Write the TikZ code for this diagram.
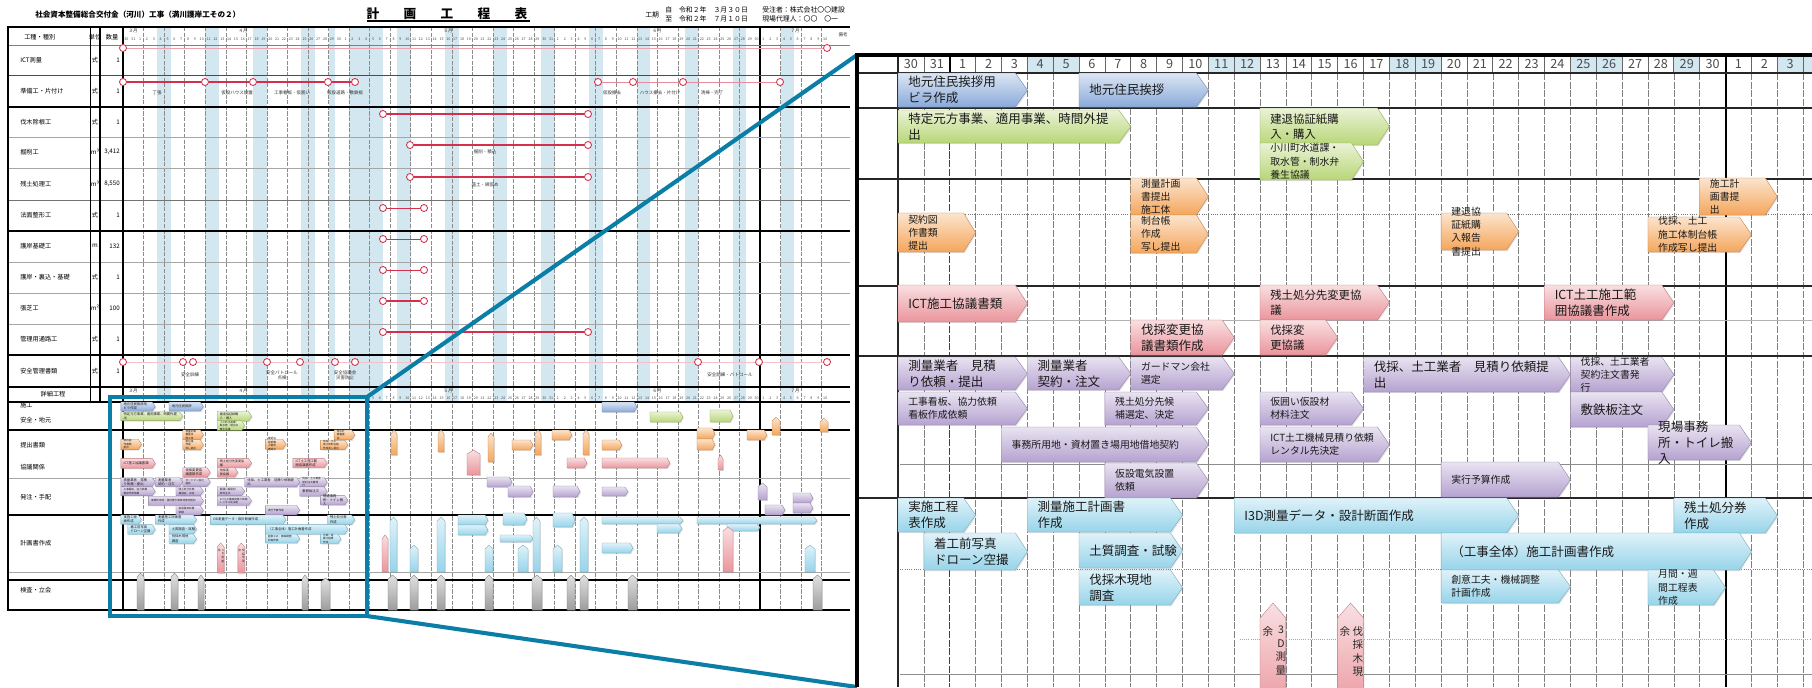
\documentclass[tikz,border=0pt]{standalone}
\usepackage{fontspec}
\setmainfont{Noto Sans CJK JP}
\usetikzlibrary{shadows}

\definecolor{zoomblue}{HTML}{0A7EA6}
\definecolor{barred}{HTML}{D5304B}
\definecolor{wkend}{HTML}{D2E7EF}
\definecolor{cBlue}{HTML}{8AAAD9}
\definecolor{cGreen}{HTML}{B8D677}
\definecolor{cOrange}{HTML}{F4A65C}
\definecolor{cPink}{HTML}{EA959C}
\definecolor{cPurple}{HTML}{B5A2D0}
\definecolor{cCyan}{HTML}{97D4EA}
\definecolor{cGray}{HTML}{9C9C9C}

\def\xz{898}
\def\cw{25.86}
\def\xs{123}
\def\dw{6.85}
\def\pfx{z}
\newcommand\fbig{\fontsize{8.9}{11.4}\selectfont}
\newcommand\fmid{\fontsize{8.1}{10.4}\selectfont}
\newcommand\fsml{\fontsize{7}{9.4}\selectfont}

\newcommand\gblock[8]{%
  \path[chev=#6] ({\xz+#2*\cw},#3) -- ({\xz+#4*\cw-12},#3) -- ({\xz+#4*\cw},{(#3+#5)/2})
    -- ({\xz+#4*\cw-12},#5) -- ({\xz+#2*\cw},#5) -- cycle;
  \node[blktxt, font=#7] (\pfx#1) at ({\xz+#2*\cw+10},{(#3+#5)/2}) {#8};}
\newcommand\gup[5]{%
  \path[chev=#5] ({\xz+#1*\cw},#4) -- ({\xz+#1*\cw},{#2+15}) -- ({\xz+(#1+#3)/2*\cw},#2)
    -- ({\xz+#3*\cw},{#2+15}) -- ({\xz+#3*\cw},#4) -- cycle;}
\newcommand\minichev[5]{%
  \path[chev=#5] (#1,#2) -- ({#3-3},#2) -- (#3,{(#2+#4)/2}) -- ({#3-3},#4) -- (#1,#4) -- cycle;}
\newcommand\miniup[5]{%
  \path[chev=#5] (#1,#4) -- (#1,{#3+4}) -- ({(#1+#2)/2},#3) -- (#2,{#3+4}) -- (#2,#4) -- cycle;}
\newcommand\sheetdays[2]{%
  \foreach \d [count=\k from 0] in {30,31}
    \node[daynum] (#2m\k) at ({\xs+(\k+0.5)*\dw},#1) {\d};
  \foreach \d in {1,...,30}
    \node[daynum] (#2a\d) at ({\xs+(\d+1.5)*\dw},#1) {\d};
  \foreach \d in {1,...,31}
    \node[daynum] (#2b\d) at ({\xs+(\d+31.5)*\dw},#1) {\d};
  \foreach \d in {1,...,30}
    \node[daynum] (#2c\d) at ({\xs+(\d+62.5)*\dw},#1) {\d};
  \foreach \d in {1,...,10}
    \node[daynum] (#2d\d) at ({\xs+(\d+92.5)*\dw},#1) {\d};}

\newcommand\ganttblocks{%
  \gblock{a1}{0}{73}{5}{107}{cBlue}{\fbig}{地元住民挨拶用\\ビラ作成}
  \gblock{a2}{7}{73}{12}{107}{cBlue}{\fbig}{地元住民挨拶}
  \gblock{b1}{0}{110}{9}{143}{cGreen}{\fbig}{特定元方事業、適用事業、時間外提\\出}
  \gblock{b2}{14}{108}{19}{145}{cGreen}{\fmid}{建退協証紙購\\入・購入}
  \gblock{b3}{14}{143}{18}{180}{cGreen}{\fsml}{小川町水道課・\\取水管・制水弁\\養生協議}
  \gblock{c1}{0}{213}{3}{252}{cOrange}{\fsml}{契約図\\作書類\\提出}
  \gblock{c2}{9}{178}{12}{215}{cOrange}{\fsml}{測量計画\\書提出\\施工体}
  \gblock{c3}{9}{215}{12}{253}{cOrange}{\fsml}{制台帳\\作成\\写し提出}
  \gblock{c4}{21}{213}{24}{250}{cOrange}{\fsml}{建退協\\証紙購\\入報告\\書提出}
  \gblock{c5}{29}{217}{33}{252}{cOrange}{\fsml}{伐採、土工\\施工体制台帳\\作成写し提出}
  \gblock{c6}{31}{178}{34}{215}{cOrange}{\fsml}{施工計\\画書提\\出}
  \gblock{d1}{0}{285}{5}{322}{cPink}{\fbig}{ICT施工協議書類}
  \gblock{d2}{9}{320}{13}{355}{cPink}{\fbig}{伐採変更協\\議書類作成}
  \gblock{d3}{14}{285}{19}{320}{cPink}{\fmid}{残土処分先変更協\\議}
  \gblock{d4}{14}{320}{17}{355}{cPink}{\fmid}{伐採変\\更協議}
  \gblock{d5}{25}{285}{30}{320}{cPink}{\fbig}{ICT土工施工範\\囲協議書作成}
  \gblock{e1}{0}{357}{5}{390}{cPurple}{\fbig}{測量業者　見積\\り依頼・提出}
  \gblock{e2}{5}{357}{9}{390}{cPurple}{\fbig}{測量業者\\契約・注文}
  \gblock{e3}{9}{357}{13}{390}{cPurple}{\fsml}{ガードマン会社\\選定}
  \gblock{e4}{0}{392}{5}{425}{cPurple}{\fsml}{工事看板、協力依頼\\看板作成依頼}
  \gblock{e5}{8}{392}{12}{425}{cPurple}{\fsml}{残土処分先候\\補選定、決定}
  \gblock{e6}{4}{427}{12}{462}{cPurple}{\fsml}{事務所用地・資材置き場用地借地契約}
  \gblock{e7}{8}{463}{12}{498}{cPurple}{\fsml}{仮設電気設置\\依頼}
  \gblock{e8}{14}{392}{18}{425}{cPurple}{\fsml}{仮囲い仮設材\\材料注文}
  \gblock{e9}{14}{427}{19}{462}{cPurple}{\fsml}{ICT土工機械見積り依頼\\レンタル先決定}
  \gblock{e10}{18}{357}{26}{392}{cPurple}{\fbig}{伐採、土工業者　見積り依頼提\\出}
  \gblock{e11}{26}{357}{30}{392}{cPurple}{\fsml}{伐採、土工業者\\契約注文書発\\行}
  \gblock{e12}{26}{392}{30}{427}{cPurple}{\fbig}{敷鉄板注文}
  \gblock{e13}{29}{425}{33}{460}{cPurple}{\fbig}{現場事務\\所・トイレ搬\\入}
  \gblock{e14}{21}{462}{26}{497}{cPurple}{\fsml}{実行予算作成}
  \gblock{f1}{0}{498}{3}{532}{cCyan}{\fbig}{実施工程\\表作成}
  \gblock{f2}{1}{533}{5}{570}{cCyan}{\fbig}{着工前写真\\ドローン空撮}
  \gblock{f3}{5}{498}{11}{532}{cCyan}{\fbig}{測量施工計画書\\作成}
  \gblock{f4}{7}{533}{11}{568}{cCyan}{\fbig}{土質調査・試験}
  \gblock{f5}{7}{570}{11}{605}{cCyan}{\fbig}{伐採木現地\\調査}
  \gblock{f6}{13}{498}{24}{533}{cCyan}{\fbig}{I3D測量データ・設計断面作成}
  \gblock{f7}{30}{498}{34}{533}{cCyan}{\fbig}{残土処分券\\作成}
  \gblock{f8}{21}{533}{33}{570}{cCyan}{\fbig}{（工事全体）施工計画書作成}
  \gblock{f9}{21}{570}{26}{603}{cCyan}{\fsml}{創意工夫・機械調整\\計画作成}
  \gblock{f10}{29}{570}{32}{605}{cCyan}{\fsml}{月間・週\\間工程表\\作成}
  \gup{14}{603}{15}{716}{cPink}
  \node[vtxt] (\pfx g1a) at (1268,626) {余};
  \node[vtxt] (\pfx g1b) at (1281,626) {3\\D\\測\\量};
  \gup{17}{603}{18}{716}{cPink}
  \node[vtxt] (\pfx g2a) at (1345,626) {余};
  \node[vtxt] (\pfx g2b) at (1358,626) {伐\\採\\木\\現};}

\begin{document}
\begin{tikzpicture}[x=0.025cm, y=-0.025cm,
  chev/.style={top color=#1!30!white, bottom color=#1, draw=#1!80!black, line width=0.25pt,
    drop shadow={shadow xshift=0.7pt, shadow yshift=-0.7pt, opacity=0.25}},
  blktxt/.style={anchor=west, align=left, inner sep=0pt, text=black!90, transform shape},
  vtxt/.style={anchor=north, align=center, inner sep=0pt, font=\fontsize{7.5}{9.6}\selectfont,
    text=black!85, transform shape},
  daynum/.style={font=\fontsize{2.6}{3}\selectfont, text=black!70, inner sep=0pt},
  bignum/.style={font=\fontsize{9}{10}\selectfont, text=black!70, inner sep=0pt},
  lbl/.style={font=\fontsize{4.4}{5}\selectfont, anchor=west, inner sep=0pt},
  info/.style={font=\fontsize{4.9}{5.5}\selectfont, anchor=west, inner sep=0pt},
  note/.style={font=\fontsize{3.2}{3.8}\selectfont, inner sep=0pt, align=center, text=black!80},
  stop/.style={circle, draw=barred, fill=white, line width=0.6pt, minimum size=5pt, inner sep=0pt},
  plan/.style={barred, line width=#1},
  sgrid/.style={black!45, line width=0.35pt, dash pattern=on 3pt off 1pt},
  zgrid/.style={black!50, line width=0.4pt, dash pattern=on 5pt off 1.2pt},
  zrow/.style={black!85, line width=1.1pt},
  zoomline/.style={zoomblue, line width=2.9pt}
]
\useasboundingbox (0,0) rectangle (1812,687);
\fill[white] (0,0) rectangle (1812,687);

\node[info, font=\fontsize{5.4}{6}\selectfont\bfseries] (subject) at (35,15)
  {社会資本整備総合交付金（河川）工事（満川護岸工その２）};
\foreach \c [count=\i] in {計,画,工,程,表}
  \node[font=\fontsize{9}{10}\selectfont\bfseries, inner sep=0pt] (tt\i) at ({336+37*\i},14) {\c};
\draw[line width=0.8pt] (367,21) -- (530,21);
\node[info] (kouki) at (645,15) {工期};
\node[info] (kfrom) at (665,10) {自　令和２年　３月３０日};
\node[info] (kto) at (665,19) {至　令和２年　７月１０日};
\node[info] (juchu) at (762,10) {受注者：株式会社〇〇建設};
\node[info] (dairi) at (762,19) {現場代理人：〇〇　〇一};

\foreach \i/\n in {5/2,12/2,19/2,26/2,30/1,33/5,40/2,47/2,54/2,61/2,68/2,75/2,82/2,89/2,96/2}
  \fill[wkend] ({\xs+\i*\dw},27) rectangle ({\xs+(\i+\n)*\dw},402);
\foreach \j in {1,...,34}
  \draw[sgrid] ({\xs+3*\j*\dw},27) -- ({\xs+3*\j*\dw},610);
\draw[line width=0.9pt] ({\xs+93*\dw},27) -- ({\xs+93*\dw},610);
\foreach \y/\w/\c in {45/0.4pt/black!50, 75/0.6pt/black!70, 107/0.9pt/black, 137/0.4pt/black!35,
    168/0.4pt/black!35, 200/0.5pt/black!55, 231/0.9pt/black, 262/0.4pt/black!35, 293/0.4pt/black!35,
    324/0.4pt/black!35, 355/0.9pt/black, 387/0.9pt/black, 402/0.9pt/black, 430/0.9pt/black,
    478/0.4pt/black!35, 515/0.9pt/black, 572/0.4pt/black!35, 580/0.9pt/black}
  \draw[line width=\w, \c] (8,\y) -- (850,\y);
\draw[line width=1pt] (850,27) -- (8,27) -- (8,610) -- (850,610);
\draw[line width=0.5pt] (90,27) -- (90,402);
\draw[line width=0.8pt] (100,27) -- (100,402);
\draw[line width=1pt] (123,27) -- (123,610);

\node[lbl] (hkind) at (24,37) {工種・種別};
\node[lbl, anchor=center] (hunit) at (95,37) {単位};
\node[lbl, anchor=center] (hqty) at (112,37) {数量};
\node[lbl, anchor=center] (hlow) at (53,394) {詳細工程};
\foreach \x/\m in {133/３月, 243/４月, 448/５月, 657/６月, 795/７月} {
  \node[note] (mt\x) at (\x,31) {\m};
  \node[note] (ml\x) at (\x,391) {\m};
}
\node[note] (bikou) at (843,35) {備考};
\sheetdays{39}{t}
\sheetdays{398}{l}

\foreach \y/\t/\u/\q in {60/ICT測量/式/1, 91/準備工・片付け/式/1, 122/伐木除根工/式/1,
    152/掘削工/m³/{3,412}, 184/残土処理工/m³/{8,550}, 215/法面整形工/式/1, 246/護岸基礎工/m/132,
    277/護岸・裏込・基礎/式/1, 308/張芝工/m²/100, 339/管理用通路工/式/1, 371/安全管理書類/式/1} {
  \node[lbl] (w\y) at (20,\y) {\t};
  \node[lbl, anchor=center] (u\y) at (95,\y) {\u};
  \node[lbl, anchor=east] (q\y) at (120,\y) {\q};
}
\foreach \y/\t in {405/施工, 420/安全・地元, 445/提出書類, 467/協議関係, 497/発注・手配,
    543/計画書作成, 590/検査・立会}
  \node[lbl] (v\y) at (20,\y) {\t};

\node[stop] (p1a) at (123,48) {};
\node[stop] (p1b) at (827,48) {};
\draw[barred!45, line width=0.5pt] (p1a) -- (p1b);
\foreach \x [count=\i] in {123,205,253,328,355}
  \node[stop] (p2-\i) at (\x,82) {};
\draw[plan=1.8pt] (p2-1) -- (p2-2) -- (p2-3) -- (p2-4) -- (p2-5);
\foreach \x [count=\i] in {598,633,683,780}
  \node[stop] (p2r-\i) at (\x,82) {};
\draw[barred!55, line width=0.5pt] (p2r-1) -- (p2r-2) -- (p2r-3) -- (p2r-4);
\foreach \x/\t in {157/丁張, 237/仮設ハウス設置, 292/工事看板・仮囲い, 345/仮設道路・敷鉄板,
    612/仮設撤去, 660/ハウス撤去・片付け, 712/清掃・完了}
  \node[note] (n2\x) at (\x,93) {\t};
\foreach \n/\y/\a/\b/\w in {3/114/383/588/1.7pt, 4/145/410/588/1.0pt, 5/177/410/588/1.0pt,
    6/208/383/424/0.7pt, 7/239/383/424/0.6pt, 8/270/383/424/0.5pt, 9/301/383/424/1.3pt,
    10/332/383/588/0.9pt} {
  \node[stop] (p\n a) at (\a,\y) {};
  \node[stop] (p\n b) at (\b,\y) {};
  \draw[plan=\w] (p\n a) -- (p\n b);
}
\node[note] (n4) at (485,152) {掘削・積込};
\node[note] (n5) at (485,185) {盛土・締固め};
\foreach \x [count=\i] in {123,183,193,267,300,335,355,698,759,827}
  \node[stop] (p11-\i) at (\x,362) {};
\draw[barred!30, line width=0.4pt] (p11-1) -- (p11-2) -- (p11-3) -- (p11-4) -- (p11-5) -- (p11-6)
  -- (p11-7) -- (p11-8) -- (p11-9) -- (p11-10);
\foreach \x/\t in {190/安全訓練, 282/安全パトロール\\点検, 345/安全協議会\\災害防止, 730/安全訓練・パトロール}
  \node[note] (n11\x) at (\x,375) {\t};

\begin{scope}[shift={(110,402)}, scale=0.266, shift={(-857,-73)}]
  \def\pfx{s}
  \ganttblocks
\end{scope}
\foreach \a/\b/\c/\d/\e in {602/402/637/412/cBlue, 650/412/683/422/cGreen, 710/410/733/422/cGreen,
    552/430/572/440/cOrange, 512/440/533/450/cOrange, 602/440/622/450/cOrange, 697/428/715/439/cOrange,
    697/439/715/450/cOrange, 747/430/767/440/cOrange, 567/458/587/468/cPink, 602/458/670/468/cPink,
    487/477/512/487/cPurple, 508/486/533/497/cPurple, 553/486/580/497/cPurple, 602/487/628/496/cPurple,
    765/505/785/515/cPurple, 793/493/813/503/cPurple, 793/503/813/513/cPurple,
    458/515/488/525/cCyan, 458/525/488/535/cCyan, 503/513/527/525/cCyan, 553/513/575/527/cCyan,
    602/517/683/524/cCyan, 657/524/682/533/cCyan, 697/517/817/524/cCyan, 727/524/760/531/cCyan,
    500/535/533/542/cCyan, 602/543/633/553/cCyan}
  {\minichev{\a}{\b}{\c}{\d}{\e}}
\foreach \a/\b/\c/\d/\e in {391/397/430/455/cOrange, 438/444/430/452/cOrange, 488/494/433/462/cOrange,
    535/541/430/455/cOrange, 583/589/430/455/cOrange, 772/780/417/435/cOrange, 820/828/418/432/cOrange,
    467/480/450/475/cPink, 382/388/535/572/cPink, 723/733/527/572/cPink, 718/723/455/470/cPink,
    758/767/483/500/cPurple, 390/397/517/572/cCyan, 410/418/545/572/cCyan, 437/445/517/572/cCyan,
    485/493/545/572/cCyan, 518/528/545/572/cCyan, 533/540/517/572/cCyan, 553/562/545/572/cCyan,
    580/588/517/572/cCyan, 805/815/545/572/cCyan, 137/144/573/610/cGray, 171/178/573/610/cGray,
    198/204/575/610/cGray, 302/308/575/610/cGray, 321/330/578/610/cGray, 388/397/575/610/cGray,
    410/418/575/610/cGray, 437/445/575/610/cGray, 485/493/575/610/cGray, 532/542/575/610/cGray,
    567/575/575/610/cGray, 580/588/575/610/cGray, 628/637/575/610/cGray, 813/822/575/610/cGray}
  {\miniup{\a}{\b}{\c}{\d}{\e}}

\coordinate (boxNW) at (110,397);
\coordinate (boxNE) at (367,397);
\coordinate (boxSE) at (367,616);
\coordinate (boxSW) at (110,616);
\coordinate (panelNW) at (857,55);
\coordinate (panelSW) at (857,687);
\coordinate (panelNE) at (1812,55);
\draw[zoomline] (boxNW) -- (boxNE) -- (boxSE) -- (boxSW) -- cycle;
\draw[zoomline] (boxNE) -- (panelNW);
\draw[zoomline] (boxSE) -- (panelSW);

\begin{scope}
  \clip (panelNW) rectangle (1812,687);
  \fill[white] (panelNW) rectangle (1812,687);
  \foreach \k in {5,6,12,13,19,20,26,27,30,34,35}
    \fill[wkend] ({\xz+\k*\cw},57) rectangle ({\xz+(\k+1)*\cw},73);
  \node[bignum] (zd0) at ({\xz+0.5*\cw},64) {30};
  \node[bignum] (zd1) at ({\xz+1.5*\cw},64) {31};
  \foreach \d in {1,...,30}
    \node[bignum] (zda\d) at ({\xz+(\d+1.5)*\cw},64) {\d};
  \foreach \d in {1,...,3}
    \node[bignum] (zdb\d) at ({\xz+(\d+31.5)*\cw},64) {\d};
  \foreach \k in {1,3,4,...,31,33,34,35} {
    \draw[black!60, line width=0.5pt] ({\xz+\k*\cw},55) -- ({\xz+\k*\cw},73);
    \draw[zgrid] ({\xz+\k*\cw},73) -- ({\xz+\k*\cw},687);
  }
  \draw[black!85, line width=0.9pt] (\xz,55) -- (\xz,687);
  \draw[black, line width=1.4pt] ({\xz+2*\cw},55) -- ({\xz+2*\cw},73);
  \draw[zgrid, black!75, line width=0.7pt] ({\xz+2*\cw},73) -- ({\xz+2*\cw},687);
  \draw[black, line width=1.4pt] ({\xz+32*\cw},55) -- ({\xz+32*\cw},687);
  \foreach \y in {73,108,179,286,356,498}
    \draw[zrow] (857,\y) -- (1812,\y);
  \draw[black!55, line width=0.6pt, densely dotted] (900,214) -- (1812,214);
  \draw[black!30, line width=0.5pt] (900,320) -- (1812,320);
  \draw[black!45, line width=0.5pt] (900,464) -- (1812,464);
  \draw[black!50, line width=0.6pt, densely dotted] (900,569) -- (1812,569);
  \draw[black!35, line width=0.5pt, densely dotted] (1240,639) -- (1812,639);
  \draw[black!45, line width=0.6pt] (900,674) -- (1812,674);
  \def\pfx{z}
  \ganttblocks
\end{scope}
\draw[line width=2.8pt] (panelNE) -- (panelNW) -- (panelSW);
\end{tikzpicture}
\end{document}
